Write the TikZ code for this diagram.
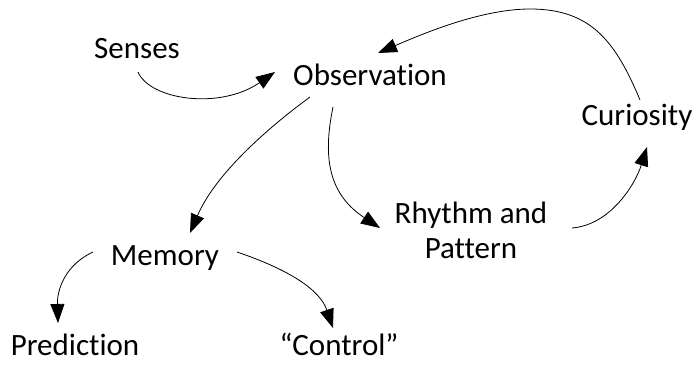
\documentclass[tikz,border=0pt]{standalone}
\usepackage{fontspec}
\setmainfont[Ligatures={NoCommon}]{Carlito}
\usetikzlibrary{arrows.meta,calc}
\begin{document}
\begin{tikzpicture}[x=1pt,y=-1pt,
  lbl/.style={anchor=base,inner sep=0pt,font=\fontsize{31}{35}\selectfont,align=center},
  conn/.style={line width=0.8pt,-{Triangle[length=19pt,width=14pt]}}]
\useasboundingbox (0,0) rectangle (698,364);
\node[lbl] (sen) at (137,58) {Senses};
\node[lbl] (obs) at (370,85) {Observation};
\node[lbl] (cur) at (637,125) {Curiosity};
\node[lbl] (rhy) at (471,258) {Rhythm and\\Pattern};
\node[lbl] (mem) at (165,265) {Memory};
\node[lbl] (pre) at (75,355) {Prediction};
\node[lbl] (con) at (339,355) {“Control”};
\draw[conn] ($(sen.base)+(1,14)$) .. controls (150,100) and (220,110) .. ($(obs.base)+(-95,-13)$);
\draw[conn] ($(cur.base)+(3,-25)$) .. controls (615,40) and (590,9) .. (530,9) .. controls (480,9) and (420,35) .. ($(obs.base)+(8,-32)$);
\draw[conn] ($(obs.base)+(-60,12)$) .. controls (265,130) and (215,175) .. ($(mem.base)+(25,-32)$);
\draw[conn] ($(obs.base)+(-37,22)$) .. controls (322,160) and (330,195) .. ($(rhy.base)+(-91,-30)$);
\draw[conn] ($(rhy.base)+(101,-30)$) .. controls (610,225) and (635,185) .. ($(cur.base)+(10,22)$);
\draw[conn] ($(mem.base)+(-72,-13)$) .. controls (65,265) and (57,290) .. ($(pre.base)+(-17,-32)$);
\draw[conn] ($(mem.base)+(72,-13)$) .. controls (290,270) and (320,290) .. ($(con.base)+(-6,-27)$);
\end{tikzpicture}
\end{document}
